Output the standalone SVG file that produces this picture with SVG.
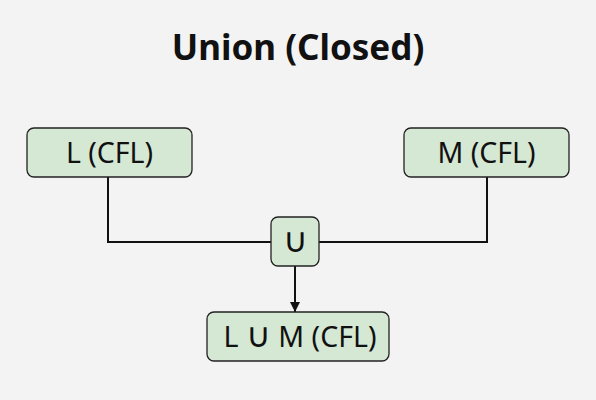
<svg xmlns="http://www.w3.org/2000/svg" width="596" height="400" viewBox="0 0 596 400">
<style>
.node rect{fill:#d5e8d4;stroke:#222;stroke-width:1.3}
.node text{font-family:"Noto Sans",sans-serif;font-size:28.5px;fill:#111;text-anchor:middle}
.node .cup{font-family:"DejaVu Sans",sans-serif;font-size:34px;font-weight:200}
.title{font-family:"Noto Sans",sans-serif;font-size:35px;font-weight:bold;fill:#111;text-anchor:middle}
.edge{fill:none;stroke:#111;stroke-width:2}
</style>
<defs>
<marker id="arrow" viewBox="0 0 10 10" refX="10" refY="5" markerWidth="10" markerHeight="10" orient="auto" markerUnits="userSpaceOnUse">
<path d="M0,0 L10,5 L0,10 z" fill="#111"/>
</marker>
</defs>
<rect width="596" height="400" fill="#f3f3f3"/>
<text class="title" x="298" y="60">Union (Closed)</text>
<g id="connectors">
<path class="edge" d="M108,177 V242 H271"/>
<path class="edge" d="M487,177 V242 H319"/>
<path class="edge" d="M295,266 V312" marker-end="url(#arrow)"/>
</g>
<g id="L" class="node">
<rect x="27" y="128" width="165" height="49" rx="7"/>
<text x="109.5" y="163">L (CFL)</text>
</g>
<g id="M" class="node">
<rect x="404" y="128" width="165" height="49" rx="7"/>
<text x="486.5" y="163">M (CFL)</text>
</g>
<g id="union" class="node">
<rect x="271" y="217" width="48" height="49" rx="7"/>
<text x="295" y="252" class="cup">∪</text>
</g>
<g id="result" class="node">
<rect x="207" y="312" width="182" height="49" rx="7"/>
<text x="300" y="347">L <tspan class="cup">∪</tspan> M (CFL)</text>
</g>
</svg>
